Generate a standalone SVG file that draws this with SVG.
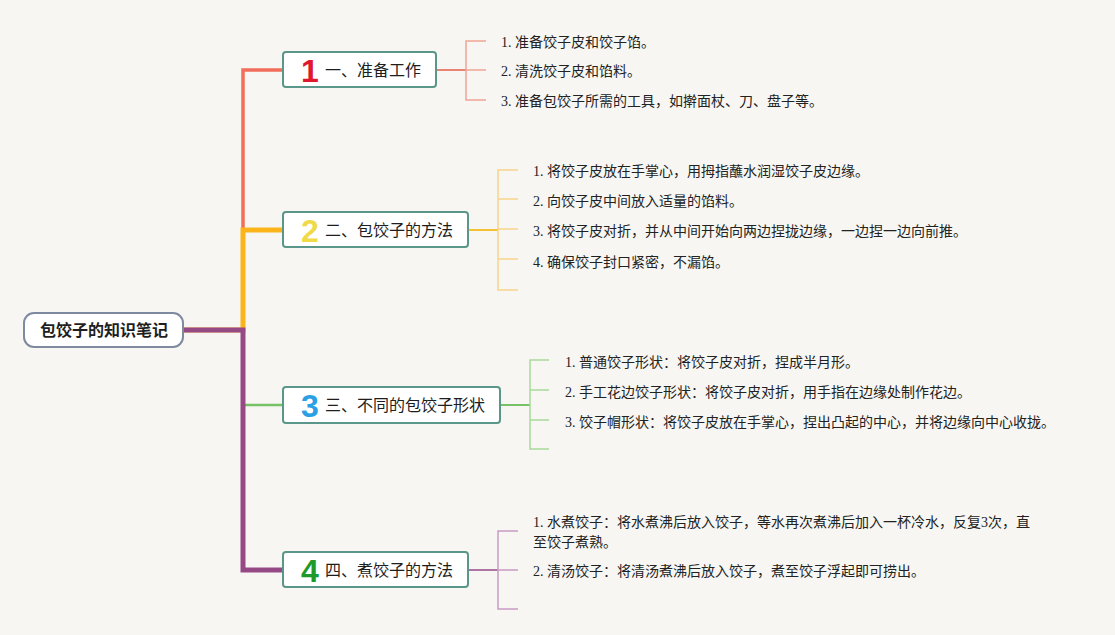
<svg xmlns="http://www.w3.org/2000/svg" width="1115" height="635" viewBox="0 0 1115 635">
<defs>
<style>
.bg{fill:#f7f6f2}
.node rect{fill:#ffffff;stroke:#5b968a;stroke-width:2}
.root rect{fill:#ffffff;stroke:#7d8aa0;stroke-width:2}
.lbl{font-family:"Noto Sans CJK SC","Noto Sans",sans-serif;font-size:16px;fill:#1e1e1e}
.rootlbl{font-family:"Noto Sans CJK SC","Noto Sans",sans-serif;font-size:16px;font-weight:bold;fill:#1e1e1e}
.num{font-family:"Liberation Sans","Noto Sans",sans-serif;font-size:32px;font-weight:bold;text-anchor:middle}
.item{font-family:"Liberation Serif","Noto Sans CJK SC",serif;font-size:14px;fill:#222222}
.conn path{fill:none;stroke-linejoin:miter;stroke-linecap:butt}
</style>
</defs>
<rect class="bg" x="0" y="0" width="1115" height="635"/>
<g id="connectors" class="conn">
  <path d="M183,330 H243 V70 H283" stroke="#f26e5a" stroke-width="3.5"/>
  <path d="M183,330 H243 V230 H283" stroke="#fbb41a" stroke-width="5"/>
  <path d="M183,330 H243 V405 H283" stroke="#76c366" stroke-width="2.5"/>
  <path d="M183,330 H243 V570 H283" stroke="#954a86" stroke-width="5"/>
  <path d="M436,70 H466" stroke="#e98374" stroke-width="2"/>
  <path d="M486,41 H466 V100 H486 M466,70 H486" stroke="#efa594" stroke-width="1.5"/>
  <path d="M468,230 H498" stroke="#f6c033" stroke-width="2"/>
  <path d="M518,170 H498 V290 H518 M498,199 H518 M498,229 H518 M498,259 H518" stroke="#f7d48a" stroke-width="1.5"/>
  <path d="M500,405 H530" stroke="#76c366" stroke-width="2"/>
  <path d="M549,360 H530 V449 H549 M530,390 H549 M530,420 H549" stroke="#aad99c" stroke-width="1.5"/>
  <path d="M468,570 H498" stroke="#954a86" stroke-width="1.5"/>
  <path d="M518,531 H498 V609 H518 M498,570 H518" stroke="#c99cc3" stroke-width="1.5"/>
</g>
<g id="root" class="root">
  <rect x="24" y="313" width="159" height="34" rx="10"/>
  <text class="rootlbl" x="104" y="336" text-anchor="middle">包饺子的知识笔记</text>
</g>
<g id="node1" class="node">
  <rect x="283" y="52" width="153" height="35" rx="3"/>
  <text class="num" x="310" y="82" fill="#e0182e">1</text>
  <text class="lbl" x="325" y="75.5">一、准备工作</text>
</g>
<g id="node2" class="node">
  <rect x="283" y="212" width="185" height="35" rx="3"/>
  <text class="num" x="310" y="242" fill="#f0da4a">2</text>
  <text class="lbl" x="325" y="235.5">二、包饺子的方法</text>
</g>
<g id="node3" class="node">
  <rect x="283" y="387" width="217" height="36" rx="3"/>
  <text class="num" x="310" y="417" fill="#2a9fe3">3</text>
  <text class="lbl" x="325" y="410.5">三、不同的包饺子形状</text>
</g>
<g id="node4" class="node">
  <rect x="283" y="552" width="185" height="35" rx="3"/>
  <text class="num" x="310" y="582" fill="#1e9a2a">4</text>
  <text class="lbl" x="325" y="575.5">四、煮饺子的方法</text>
</g>
<g id="items1">
  <text class="item" x="501" y="47">1. 准备饺子皮和饺子馅。</text>
  <text class="item" x="501" y="76">2. 清洗饺子皮和馅料。</text>
  <text class="item" x="501" y="106">3. 准备包饺子所需的工具，如擀面杖、刀、盘子等。</text>
</g>
<g id="items2">
  <text class="item" x="533" y="176">1. 将饺子皮放在手掌心，用拇指蘸水润湿饺子皮边缘。</text>
  <text class="item" x="533" y="206">2. 向饺子皮中间放入适量的馅料。</text>
  <text class="item" x="533" y="236">3. 将饺子皮对折，并从中间开始向两边捏拢边缘，一边捏一边向前推。</text>
  <text class="item" x="533" y="267">4. 确保饺子封口紧密，不漏馅。</text>
</g>
<g id="items3">
  <text class="item" x="565" y="367">1. 普通饺子形状：将饺子皮对折，捏成半月形。</text>
  <text class="item" x="565" y="397">2. 手工花边饺子形状：将饺子皮对折，用手指在边缘处制作花边。</text>
  <text class="item" x="565" y="427">3. 饺子帽形状：将饺子皮放在手掌心，捏出凸起的中心，并将边缘向中心收拢。</text>
</g>
<g id="items4">
  <text class="item" x="533" y="527">1. 水煮饺子：将水煮沸后放入饺子，等水再次煮沸后加入一杯冷水，反复3次，直</text>
  <text class="item" x="533" y="547">至饺子煮熟。</text>
  <text class="item" x="533" y="576">2. 清汤饺子：将清汤煮沸后放入饺子，煮至饺子浮起即可捞出。</text>
</g>
</svg>
